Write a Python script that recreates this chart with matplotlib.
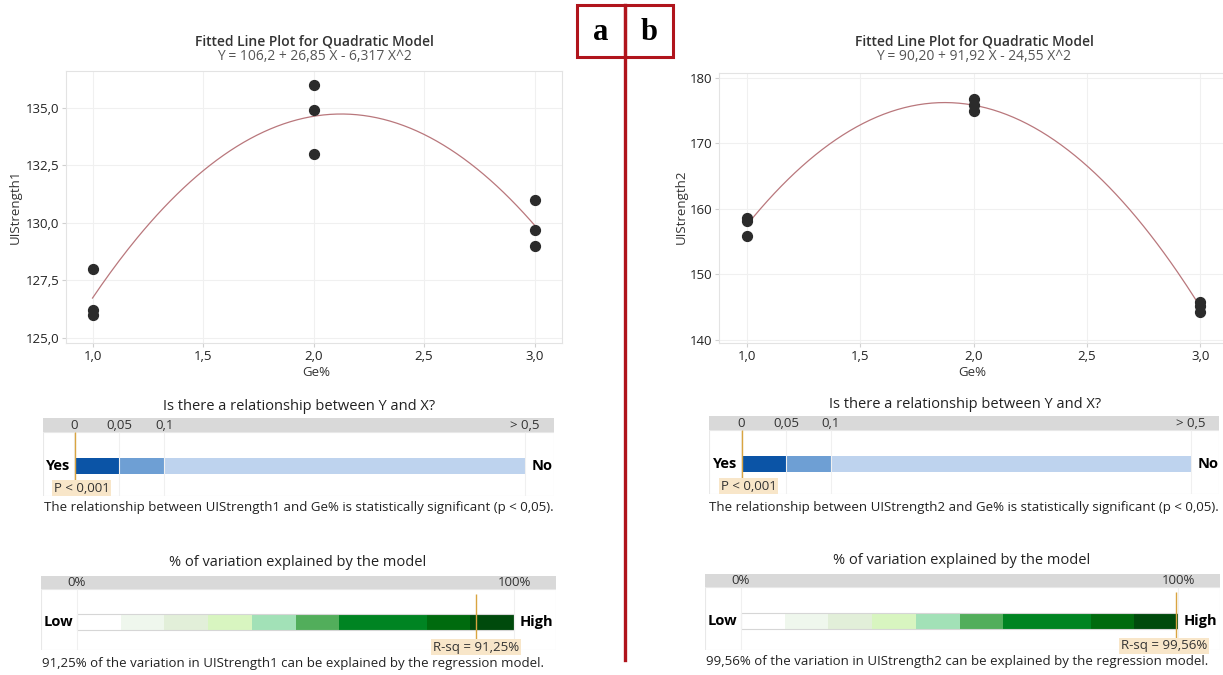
import matplotlib
matplotlib.use("Agg")
import matplotlib.pyplot as plt
from matplotlib.patches import Rectangle
import numpy as np

plt.rcParams['font.family'] = ['Open Sans', 'DejaVu Sans']

W, H = 1223, 675

# ---- data ----
ge_pct = [1, 1, 1, 2, 2, 2, 3, 3, 3]
strength1 = [128.0, 126.2, 126.0, 136.0, 134.9, 133.0, 131.0, 129.7, 129.0]
strength2 = [158.6, 158.1, 155.9, 176.8, 175.9, 175.0, 145.7, 145.1, 144.2]

coef1 = [106.2, 26.85, -6.317]   # Y = b0 + b1 X + b2 X^2
coef2 = [90.20, 91.92, -24.55]
eq1 = "Y = 106,2 + 26,85 X - 6,317 X^2"
eq2 = "Y = 90,20 + 91,92 X - 24,55 X^2"

p_tick_labels = ['0', '0,05', '0,1', '> 0,5']
p_tick_pos = [0, 1, 2, 10]
p_colors = ['#0b54a6', '#6e9fd4', '#bed3ee']

rsq_edges = [0, 10, 20, 30, 40, 50, 60, 70, 80, 90, 100]
rsq_colors = ['#ffffff', '#eff7ed', '#e2efd9', '#d8f5c0', '#a2e1b7',
              '#52ae5b', '#008422', '#008422', '#006b0e', '#004a0c']
rsq_values = [91.25, 99.56]
rsq_labels = ['R-sq = 91,25%', 'R-sq = 99,56%']
responses = ['UIStrength1', 'UIStrength2']

fig = plt.figure(figsize=(W / 100, H / 100), dpi=100)


def px_axes(x0, y0, x1, y1):
    return fig.add_axes([x0 / W, 1 - y1 / H, (x1 - x0) / W, (y1 - y0) / H])


def ftext(x, y, s, **kw):
    fig.text(x / W, 1 - y / H, s, **kw)


def comma(v, nd):
    return f"{v:.{nd}f}".replace('.', ',')


def scatter_panel(box, xlim, ylim, yticks, ynd, ys, coef, title_x, eq, ylab, ylab_x, xlab_x,
                  right_spine=True):
    ax = px_axes(*box)
    ax.set_xlim(*xlim)
    ax.set_ylim(*ylim)
    xs = np.linspace(1, 3, 200)
    ax.plot(xs, coef[0] + coef[1] * xs + coef[2] * xs ** 2, color='#b9777c', lw=0.9, zorder=2)
    ax.scatter(ge_pct, ys, s=50, color='#2b2b2b', zorder=3)
    xt = [1.0, 1.5, 2.0, 2.5, 3.0]
    ax.set_xticks(xt)
    ax.set_xticklabels([comma(v, 1) for v in xt])
    ax.set_yticks(yticks)
    ax.set_yticklabels([comma(v, ynd) for v in yticks])
    ax.grid(True, color='#f0f0f0', lw=0.8)
    ax.set_axisbelow(True)
    for sp in ax.spines.values():
        sp.set_color('#e3e3e3')
    ax.spines['right'].set_visible(right_spine)
    ax.tick_params(length=3, color='#d0d0d0', labelsize=9.5, labelcolor='#222222', pad=2)
    ftext(title_x, 42, 'Fitted Line Plot for Quadratic Model', ha='center', va='center',
          fontsize=10, fontweight='semibold', color='#333333')
    ftext(title_x, 56, eq, ha='center', va='center', fontsize=10, color='#555555')
    ftext(ylab_x, 207, ylab, ha='center', va='center', rotation=90, fontsize=9.5, color='#333333')
    ftext(xlab_x, 372, 'Ge%', ha='center', va='center', fontsize=9.5, color='#333333')
    return ax


scatter_panel((66, 71, 562, 343), (0.88, 3.124), (124.78, 136.6),
              [125.0, 127.5, 130.0, 132.5, 135.0], 1, strength1, coef1, 314, eq1,
              responses[0], 15, 316)
scatter_panel((719, 73, 1223, 343), (0.876, 3.10), (139.5, 180.76),
              [140, 150, 160, 170, 180], 0, strength2, coef2, 974, eq2,
              responses[1], 681, 972, right_spine=False)


def panel_axes(x0, x1, y0, y1, zero_px, end_px, end_val):
    ax = px_axes(x0, y0, x1, y1)
    scale = (end_px - zero_px) / end_val
    ax.set_xlim((x0 - zero_px) / scale, (x1 - zero_px) / scale)
    ax.set_ylim(y1, y0)
    ax.axis('off')
    return ax


def frame(ax, y0, y1, band=14):
    xa, xb = ax.get_xlim()
    ax.add_patch(Rectangle((xa, y0), xb - xa, band, facecolor='#d9d9d9', edgecolor='none'))
    ax.add_patch(Rectangle((xa, y0 + band), xb - xa, y1 - y0 - band, facecolor='white',
                           edgecolor='#e8e8e8', lw=0.8))


def p_panel(x0, x1, y0, y1, zero_px, end_px, bar_y, title_x, statement, stmt_x, stmt_y):
    ax = panel_axes(x0, x1, y0, y1, zero_px, end_px, p_tick_pos[-1])
    frame(ax, y0, y1)
    ax.vlines(p_tick_pos, y0 + 14, y1, color='#f0f0f0', lw=0.8)
    for pos, lab in zip(p_tick_pos, p_tick_labels):
        ax.text(pos, y0 + 7.5, lab, ha='center', va='center', fontsize=9.5, color='#333333')
    lefts = p_tick_pos[:-1]
    widths = np.diff(p_tick_pos)
    ax.barh(bar_y, widths, left=lefts, height=16, color=p_colors, align='center')
    ax.vlines(0.02, y0 + 14, bar_y + 14, color='#d9a441', lw=1.0)
    ax.text(-0.08, bar_y, 'Yes', ha='right', va='center', fontsize=10.5, fontweight='bold')
    ax.text(10.15, bar_y, 'No', ha='left', va='center', fontsize=10.5, fontweight='bold')
    ax.text(-0.45, bar_y + 22, 'P < 0,001', ha='left', va='center', fontsize=9.5, color='#333333',
            bbox=dict(boxstyle='square,pad=0.15', facecolor='#f8e6c9', edgecolor='none'))
    ftext(title_x, y0 - 12, 'Is there a relationship between Y and X?', ha='center', va='center',
          fontsize=10.5, color='#222222')
    ftext(stmt_x, stmt_y, statement, ha='left', va='center', fontsize=9.5, color='#222222')


def rsq_panel(x0, x1, y0, y1, zero_px, end_px, bar_y, rsq, rlab, title_x, statement, stmt_x, stmt_y):
    ax = panel_axes(x0, x1, y0, y1, zero_px, end_px, 100)
    frame(ax, y0, y1, band=13)
    ax.vlines([0, 100], y0 + 13, y1, color='#f0f0f0', lw=0.8)
    ax.text(0, y0 + 6.5, '0%', ha='center', va='center', fontsize=9.5, color='#333333')
    ax.text(100, y0 + 6.5, '100%', ha='center', va='center', fontsize=9.5, color='#333333')
    ax.barh(bar_y, np.diff(rsq_edges), left=rsq_edges[:-1], height=16, color=rsq_colors,
            align='center')
    ax.add_patch(Rectangle((0, bar_y - 8), 100, 16, facecolor='none', edgecolor='#d6d6d6', lw=0.8))
    ax.vlines(rsq, y0 + 18, bar_y + 18, color='#d9a441', lw=1.0)
    ax.text(min(rsq, 96.8), bar_y + 25, rlab, ha='center', va='center', fontsize=9.5, color='#333333',
            bbox=dict(boxstyle='square,pad=0.15', facecolor='#f8e6c9', edgecolor='none'))
    ax.text(-0.8, bar_y, 'Low', ha='right', va='center', fontsize=10.5, fontweight='bold')
    ax.text(101.2, bar_y, 'High', ha='left', va='center', fontsize=10.5, fontweight='bold')
    ftext(title_x, y0 - 13, '% of variation explained by the model', ha='center', va='center',
          fontsize=10.5, color='#222222')
    ftext(stmt_x, stmt_y, statement, ha='left', va='center', fontsize=9.5, color='#222222')


p_panel(43, 554, 418, 496, 74, 525, 466, 299,
        f'The relationship between {responses[0]} and Ge% is statistically significant (p < 0,05).',
        44, 508)
p_panel(709, 1219, 416, 494, 741, 1191, 464, 965,
        f'The relationship between {responses[1]} and Ge% is statistically significant (p < 0,05).',
        709, 507)

rsq_panel(41, 556, 576, 650, 77, 514, 622, rsq_values[0], rsq_labels[0], 298,
          f'{comma(rsq_values[0], 2)}% of the variation in {responses[0]} can be explained by the regression model.',
          42, 663)
rsq_panel(705, 1220, 574, 650, 741, 1178, 621, rsq_values[1], rsq_labels[1], 962,
          f'{comma(rsq_values[1], 2)}% of the variation in {responses[1]} can be explained by the regression model.',
          706, 662)

# ---- panel markers a / b ----
deco = fig.add_axes([0, 0, 1, 1], facecolor='none')
deco.set_xlim(0, W)
deco.set_ylim(H, 0)
deco.axis('off')
red = '#b0141c'
deco.add_patch(Rectangle((577, 5), 48, 52, facecolor='none', edgecolor=red, lw=2.2))
deco.add_patch(Rectangle((625, 5), 48, 52, facecolor='none', edgecolor=red, lw=2.2))
deco.plot([625, 625], [5, 660], color=red, lw=2.4)
deco.text(601, 33, 'a', ha='center', va='center', fontsize=22, fontweight='bold',
          family='Liberation Serif')
deco.text(649, 33, 'b', ha='center', va='center', fontsize=22, fontweight='bold',
          family='Liberation Serif')

fig.savefig('out.png', dpi=100)
